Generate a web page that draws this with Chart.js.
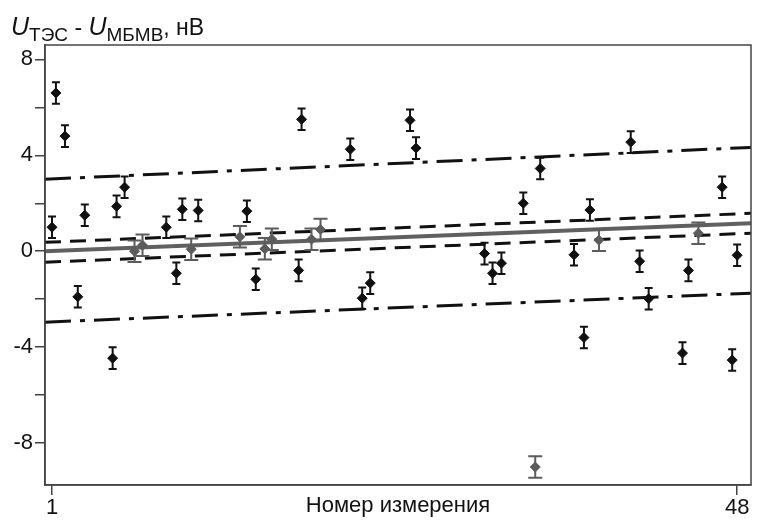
<!DOCTYPE html>
<html>
<head>
<meta charset="utf-8">
<script src="https://cdn.jsdelivr.net/npm/chart.js@4"></script>
<style>
  html, body { margin: 0; padding: 0; background: #fff; }
  #wrap { width: 757px; height: 521px; }
</style>
</head>
<body>
<div id="wrap"><canvas id="chart"></canvas></div>
<script>
var measX = [1.00, 1.27, 1.89, 2.77, 3.25, 5.16, 5.43, 5.98, 6.66, 7.21,
             8.84, 9.53, 9.94, 10.55, 11.03, 13.89, 14.37, 14.98, 15.60, 16.08,
             17.92, 18.12, 18.80, 19.42, 21.46, 22.28, 22.83, 25.56, 25.97, 30.67,
             31.22, 31.83, 33.33, 34.15, 34.49, 36.81, 37.49, 37.90, 38.52, 40.70,
             41.31, 41.93, 44.25, 44.66, 45.34, 46.97, 47.66, 48.00];
var measY = [1.0, 6.6, 4.8, -1.9, 1.5, -4.46, 1.87, 2.67, 0.0, 0.25,
             1.0, -0.92, 1.75, 0.08, 1.7, 0.6, 1.67, -1.17, 0.1, 0.5,
             -0.8, 5.5, 0.5, 0.9, 4.25, -1.96, -1.33, 5.46, 4.3, -0.1,
             -0.92, -0.5, 2.0, -9.0, 3.45, -0.15, -3.6, 1.72, 0.46, 4.55,
             -0.42, -1.98, -4.25, -0.8, 0.75, 2.67, -4.54, -0.17];
var measErr = 0.45;
// points drawn in grey in the original
var greyIdx = [8, 9, 13, 15, 18, 19, 22, 23, 33, 38, 44];

// fitted line and bands, values at the two ends of the x range
var lineEnds = [0.52, 48.95];
var fitLine = [0.0, 1.17];
var confUpper = [0.37, 1.58];
var confLower = [-0.46, 0.75];
var limUpper = [3.0, 4.33];
var limLower = [-2.96, -1.75];

var xTicks = [1, 48];
var yMin = -9.75, yMax = 8.6;

var FONT = '"Liberation Sans", Arial';

function pairs(ys) {
  return lineEnds.map(function(x, i) { return { x: x, y: ys[i] }; });
}

var black = [], grey = [];
measX.forEach(function(x, i) {
  var p = { x: x, y: measY[i], e: measErr };
  if (greyIdx.indexOf(i) >= 0) grey.push(p); else black.push(p);
});

var errorBars = {
  id: 'errorBars',
  afterDatasetsDraw: function(chart) {
    var ctx = chart.ctx, xs = chart.scales.x, ys = chart.scales.y;
    ctx.save();
    chart.data.datasets.forEach(function(ds) {
      if (!ds.errBars) return;
      ctx.strokeStyle = ds.backgroundColor;
      ctx.lineWidth = 2;
      ds.data.forEach(function(p) {
        var px = xs.getPixelForValue(p.x);
        var top = ys.getPixelForValue(p.y + p.e);
        var bot = ys.getPixelForValue(p.y - p.e);
        var c = ds.capW;
        ctx.beginPath();
        ctx.moveTo(px, top); ctx.lineTo(px, bot);
        ctx.moveTo(px - c, top); ctx.lineTo(px + c, top);
        ctx.moveTo(px - c, bot); ctx.lineTo(px + c, bot);
        ctx.stroke();
      });
    });
    ctx.restore();
  }
};

var frame = {
  id: 'frame',
  afterDraw: function(chart) {
    var ctx = chart.ctx, a = chart.chartArea;
    ctx.save();
    ctx.strokeStyle = '#444';
    ctx.lineWidth = 1.5;
    ctx.strokeRect(a.left, a.top, a.right - a.left, a.bottom - a.top);

    // axis titles
    ctx.fillStyle = '#111';
    ctx.textBaseline = 'alphabetic';
    var x = 11, y = 35;
    var parts = [
      ['italic 25px ' + FONT, 'U', 0],
      ['19px ' + FONT, 'ТЭС', 6],
      ['23px ' + FONT, ' - ', 0],
      ['italic 25px ' + FONT, 'U', 0],
      ['19px ' + FONT, 'МБМВ', 6],
      ['23px ' + FONT, ', нВ', 0]
    ];
    parts.forEach(function(pt) {
      ctx.font = pt[0];
      ctx.fillText(pt[1], x, y + pt[2]);
      x += ctx.measureText(pt[1]).width;
    });
    ctx.font = '22px ' + FONT;
    ctx.textAlign = 'center';
    ctx.fillText('Номер измерения', (a.left + a.right) / 2, 512);
    ctx.restore();
  }
};

new Chart(document.getElementById('chart'), {
  type: 'scatter',
  data: {
    datasets: [
      { type: 'line', data: pairs(fitLine), borderColor: '#606060', borderWidth: 4, pointRadius: 0, order: 5 },
      { type: 'line', data: pairs(confUpper), borderColor: '#111', borderWidth: 3, borderDash: [16, 9], pointRadius: 0, order: 4 },
      { type: 'line', data: pairs(confLower), borderColor: '#111', borderWidth: 3, borderDash: [16, 9], pointRadius: 0, order: 4 },
      { type: 'line', data: pairs(limUpper), borderColor: '#111', borderWidth: 3, borderDash: [26, 9, 5, 9], pointRadius: 0, order: 4 },
      { type: 'line', data: pairs(limLower), borderColor: '#111', borderWidth: 3, borderDash: [26, 9, 5, 9], pointRadius: 0, order: 4 },
      { data: grey, backgroundColor: '#5c5c5c', borderColor: '#5c5c5c', pointStyle: 'rectRot', pointRadius: 5, errBars: true, capW: 7, order: 2 },
      { data: black, backgroundColor: '#111', borderColor: '#111', pointStyle: 'rectRot', pointRadius: 5, errBars: true, capW: 4, order: 1 }
    ]
  },
  options: {
    responsive: true,
    maintainAspectRatio: false,
    animation: false,
    layout: { padding: { top: 45, right: 2, left: 0, bottom: 0 } },
    plugins: { legend: { display: false }, tooltip: { enabled: false } },
    scales: {
      x: {
        type: 'linear', min: 0.52, max: 48.95,
        afterBuildTicks: function(s) { s.ticks = xTicks.map(function(v) { return { value: v }; }); },
        afterFit: function(s) { s.height = 36; },
        grid: { drawOnChartArea: false, tickLength: 10, color: '#444', lineWidth: 1.5 },
        border: { color: '#444', width: 1.5 },
        ticks: { color: '#111', font: { family: FONT, size: 22 }, padding: 0, maxRotation: 0 }
      },
      y: {
        min: yMin, max: yMax,
        afterBuildTicks: function(s) {
          s.ticks = [-8, -6, -4, -2, 0, 2, 4, 6, 8].map(function(v) { return { value: v }; });
        },
        afterFit: function(s) { s.width = 45; },
        grid: { drawOnChartArea: false, tickLength: 10, color: '#444', lineWidth: 1.5 },
        border: { color: '#444', width: 1.5 },
        ticks: {
          color: '#111', font: { family: FONT, size: 22 }, padding: 2,
          callback: function(v) { return v % 4 === 0 ? v : ''; }
        }
      }
    }
  },
  plugins: [errorBars, frame]
});
</script>
</body>
</html>
